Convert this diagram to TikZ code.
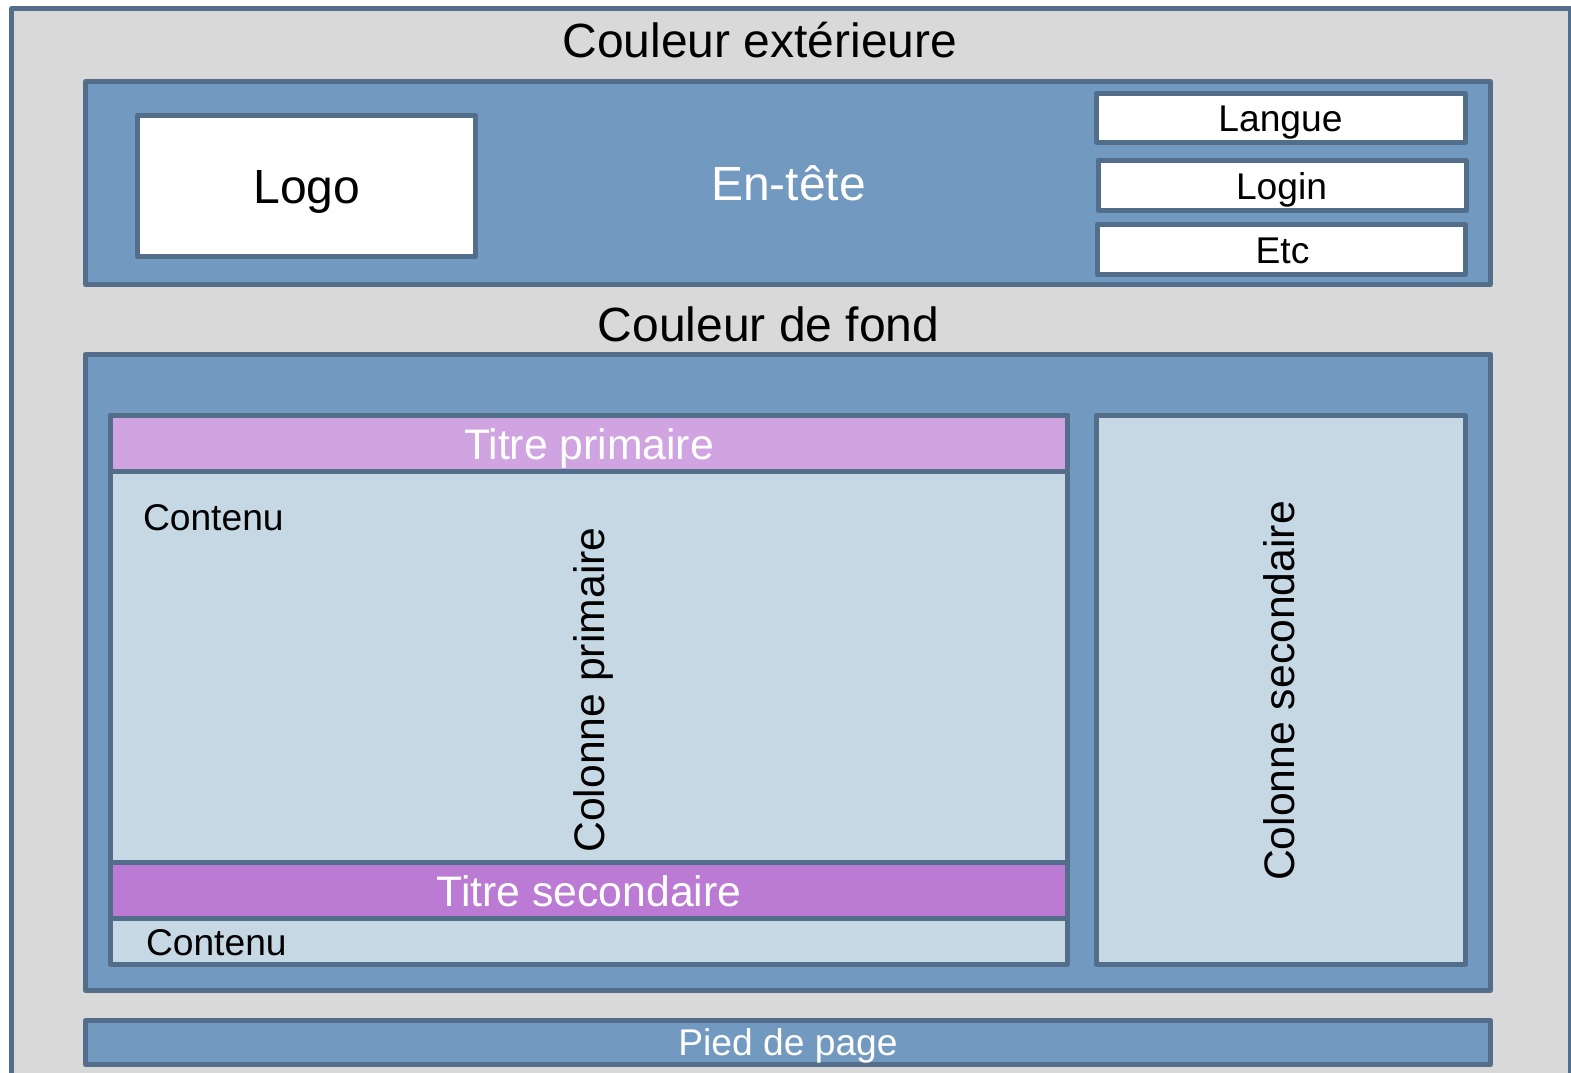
\documentclass[tikz,border=0pt]{standalone}
\usepackage{fontspec}
\setmainfont{Liberation Sans}
\definecolor{bordc}{RGB}{82,110,138}
\definecolor{outerc}{RGB}{217,217,217}
\definecolor{bluec}{RGB}{114,153,191}
\definecolor{lightc}{RGB}{199,216,229}
\definecolor{pinkc}{RGB}{208,164,224}
\definecolor{purplec}{RGB}{187,122,211}
\begin{document}
\begin{tikzpicture}[x=1pt,y=-1pt,
  boxst/.style={draw=bordc,line width=5pt,line join=round,rectangle,inner sep=0pt,outer sep=0pt},
  lbl/.style={inner sep=0pt,outer sep=0pt,anchor=base},
  big/.style={font=\fontsize{48}{57}\selectfont},
  med/.style={font=\fontsize{42.7}{50}\selectfont},
  small/.style={font=\fontsize{37.2}{44}\selectfont}]
\useasboundingbox (0,0) rectangle (1571,1073);
\fill[white] (0,0) rectangle (1571,1073);
% outer
\node[boxst,fill=outerc,minimum width=1559pt,minimum height=1071.5pt] (outer) at (791,544.25) {};
% header
\node[boxst,fill=bluec,minimum width=1405pt,minimum height=203pt] (header) at (788,183) {};
\node[boxst,fill=white,minimum width=338pt,minimum height=141pt] (logo) at (306.5,186) {};
\node[boxst,fill=white,minimum width=368.5pt,minimum height=49pt] (langue) at (1280.75,117.5) {};
\node[boxst,fill=white,minimum width=368pt,minimum height=50pt] (login) at (1282,185.5) {};
\node[boxst,fill=white,minimum width=368pt,minimum height=50pt] (etc) at (1281.5,249.5) {};
% main
\node[boxst,fill=bluec,minimum width=1405pt,minimum height=636pt] (main) at (788,672.5) {};
\node[boxst,fill=lightc,minimum width=957pt,minimum height=549pt] (primcol) at (589,690) {};
\node[boxst,fill=pinkc,minimum width=957pt,minimum height=56pt] (titprim) at (589,443.5) {};
\node[boxst,fill=purplec,minimum width=957pt,minimum height=56pt] (titsec) at (589,890.5) {};
\node[boxst,fill=lightc,minimum width=369pt,minimum height=549pt] (seccol) at (1281,690) {};
% footer
\node[boxst,fill=bluec,minimum width=1405pt,minimum height=44pt] (footer) at (788,1042.5) {};
% labels
\node[lbl,big] (t1) at (760,58) {Couleur extérieure};
\node[lbl,big] (t2) at (768.5,341) {Couleur de fond};
\node[lbl,big] (tlogo) at (307,203) {Logo};
\node[lbl,big,text=white] (tent) at (788.5,200) {En-tête};
\node[lbl,small] (tlang) at (1280.5,131.5) {Langue};
\node[lbl,small] (tlogin) at (1281.5,199) {Login};
\node[lbl,small] (tetc) at (1282.5,263) {Etc};
\node[lbl,med,text=white] (ttp) at (589,459) {Titre primaire};
\node[lbl,small,anchor=base west] (tc1) at (143,530.5) {Contenu};
\node[lbl,med,rotate=90] (tcp) at (604,690) {Colonne primaire};
\node[lbl,med,text=white] (tts) at (589,906.5) {Titre secondaire};
\node[lbl,small,anchor=base west] (tc2) at (146,955.5) {Contenu};
\node[lbl,med,rotate=90] (tcs) at (1294,691) {Colonne secondaire};
\node[lbl,small,text=white] (tpied) at (788,1055.5) {Pied de page};
\end{tikzpicture}
\end{document}
